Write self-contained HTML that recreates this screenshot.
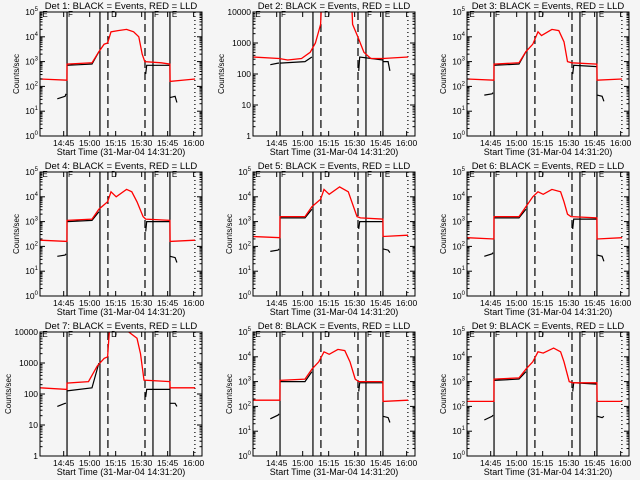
<!DOCTYPE html>
<html><head><meta charset="utf-8"><style>
body{margin:0;background:#f5f5f5}
svg{display:block}
text{font-family:"Liberation Sans",sans-serif;fill:#000}
</style></head><body>
<svg id="c" width="640" height="480" viewBox="0 0 640 480" xmlns="http://www.w3.org/2000/svg">
<rect width="640" height="480" fill="#f5f5f5"/>
</svg>
<script>
// Time in minutes after 14:31:20; values are log10(counts/sec)
const panelTitles = ["Det 1","Det 2","Det 3","Det 4","Det 5","Det 6","Det 7","Det 8","Det 9"];
const yDecades = [5,4,5,5,5,5,4,5,5];
const tickTimes = [13.67,28.67,43.67,58.67,73.67,88.67];
const tickLabels = ["14:45","15:00","15:15","15:30","15:45","16:00"];
const solidLines = [15.6,34.6,65.2,75];
const dashedLines = [39.2,60.6];
const dottedLine = 89.4;

const redT = [
 [0,15.5,15.6,30,34,37,39,41,45,50,54,57,59,60.5,70,75,75.1,89.5],
 [0,15,20,28,33,36,39,39.5,57,57.5,60.5,64,68,75,89.5],
 [0,15.5,15.6,30,34,38,41,43,49,53,56,58,60.5,75,75.1,89.5],
 [0,15.5,15.6,30,34,39,41,44,50,53,56,59.5,61,75,75.1,89.5],
 [0,15.5,15.6,30,34,39,41,44,50,55,58,60,62,75,75.1,89.5],
 [0,15.5,15.6,30,34,38,41,44,49,54,56,58,60,75,75.1,89.5],
 [0,15.5,15.6,28,33,37,39,40,42,50,56,58,60,75,75.1,89.5],
 [0,15.5,15.6,30,34,38,41,44,49,53,56,59,61,75,75.1,89.5],
 [0,15.5,15.6,30,34,38,41,44,50,54,56,59,61,75,75.1,89.5]
];
const redV = [
 [2.3,2.25,2.9,2.95,3.4,3.7,3.75,4.2,4.25,4.3,4.2,4.0,3.3,3.0,2.95,2.9,2.2,2.3],
 [2.55,2.5,2.45,2.5,2.7,3.0,3.6,4.2,4.2,3.6,3.2,2.7,2.5,2.5,2.55],
 [2.3,2.25,2.9,2.95,3.4,3.7,4.2,4.05,4.3,4.25,3.8,3.0,2.95,2.9,2.25,2.3],
 [2.25,2.2,3.05,3.1,3.5,3.8,4.2,4.0,4.3,4.2,3.8,3.2,3.1,3.05,2.2,2.25],
 [2.4,2.35,3.2,3.2,3.6,3.9,4.3,4.1,4.4,4.2,3.6,3.2,3.15,3.1,2.4,2.45],
 [2.35,2.3,3.2,3.2,3.6,4.0,4.2,4.1,4.3,4.2,3.8,3.3,3.2,3.15,2.3,2.35],
 [2.2,2.15,2.35,2.4,2.9,3.15,3.2,4.0,4.05,4.05,3.8,3.3,2.45,2.4,2.2,2.2],
 [2.25,2.25,3.05,3.1,3.5,3.8,4.2,4.1,4.3,4.25,3.8,3.1,3.0,3.0,2.2,2.25],
 [2.2,2.2,3.1,3.15,3.5,3.8,4.2,4.15,4.35,4.2,3.8,3.0,2.95,2.95,2.2,2.2]
];
const blackT = [[10,14.5,15],[15.6,30,34],[61,61.6,75],[75.1,78,79]];
const blackV = [
 [[1.5,1.6,1.7],[2.85,2.9,3.4],[2.5,2.85,2.85],[1.55,1.6,1.35]],
 [[2.3,2.35,2.35],[2.35,2.4,2.55],[2.1,2.55,2.45],[2.4,2.4,2.1]],
 [[1.65,1.7,1.75],[2.85,2.9,3.4],[2.5,2.85,2.8],[1.65,1.6,1.4]],
 [[1.6,1.65,1.7],[3.0,3.05,3.4],[2.6,3.0,3.0],[1.6,1.55,1.35]],
 [[1.8,1.85,1.9],[3.15,3.15,3.5],[2.7,3.0,3.0],[1.9,1.85,1.75]],
 [[1.6,1.7,1.75],[3.15,3.15,3.5],[2.7,3.1,3.1],[1.65,1.6,1.4]],
 [[1.6,1.7,1.7],[2.1,2.2,3.0],[1.9,2.15,2.15],[1.7,1.7,1.6]],
 [[1.5,1.65,1.7],[3.0,3.0,3.4],[2.6,2.95,2.95],[1.6,1.55,1.35]],
 [[1.45,1.6,1.65],[3.05,3.1,3.4],[2.6,2.95,2.9],[1.6,1.55,1.6]]
];

const NS="http://www.w3.org/2000/svg";
const svg=document.getElementById('c');
const BX0=40,BX1=202,BY0=12,BY1=136,TMAX=93.5;
function mk(tag,attrs,parent){const e=document.createElementNS(NS,tag);for(const k in attrs)e.setAttribute(k,attrs[k]);(parent||svg).appendChild(e);return e;}

for(let p=0;p<9;p++){
 const ox=[0,213,427][p%3], oy=[0,160,320][Math.floor(p/3)];
 const nd=yDecades[p];
 const xs=t=>ox+BX0+(t/TMAX)*(BX1-BX0);
 const ys=v=>oy+BY1-(v/nd)*(BY1-BY0);
 const g=mk('g',{});
 
 
 const cp=mk('clipPath',{id:'cp'+p},g);
 mk('rect',{x:ox+BX0,y:oy+BY0,width:BX1-BX0,height:BY1-BY0},cp);
 const tt=mk('text',{x:ox+121,y:oy+9,'font-size':'9.5','text-anchor':'middle'},g);
 tt.textContent=panelTitles[p]+": BLACK = Events, RED = LLD";
 
 
 const vg=mk('g',{stroke:'#000','stroke-width':1.2,fill:'none'},g);
 solidLines.forEach(t=>{mk('line',{x1:xs(t),x2:xs(t),y1:oy+BY0,y2:oy+BY1},vg);});
 dashedLines.forEach(t=>{mk('line',{x1:xs(t),x2:xs(t),y1:oy+BY0,y2:oy+BY1,'stroke-dasharray':'8,4'},vg);});
 mk('line',{x1:xs(dottedLine),x2:xs(dottedLine),y1:oy+BY0,y2:oy+BY1,'stroke-dasharray':'1,3'},vg);
 [[0.8,'E'],[15.6,'F'],[40.5,'D'],[65.2,'F'],[75.5,'E']].forEach(m=>{
  const e=mk('text',{x:xs(m[0])+1,y:oy+BY0+5,'font-size':'8'},g);e.textContent=m[1];
  
 });
 blackT.forEach((ts,i)=>{
  const pts=ts.map((t,j)=>xs(t).toFixed(1)+','+ys(blackV[p][i][j]).toFixed(1)).join(' ');
  const l=mk('polyline',{points:pts,fill:'none',stroke:'#000','stroke-width':1.2,'clip-path':'url(#cp'+p+')'},g);
  
  
 });
 const rp=redT[p].map((t,j)=>xs(t).toFixed(1)+','+ys(redV[p][j]).toFixed(1)).join(' ');
 const rl=mk('polyline',{points:rp,fill:'none',stroke:'#ff0000','stroke-width':1.3,'clip-path':'url(#cp'+p+')'},g);
 
 
 mk('rect',{x:ox+BX0,y:oy+BY0,width:BX1-BX0,height:BY1-BY0,fill:'none',stroke:'#000','stroke-width':1},g);
 const ag=mk('g',{stroke:'#000','stroke-width':1},g);
 tickTimes.forEach((t,i)=>{
  const x=xs(t);
  mk('line',{x1:x,x2:x,y1:oy+BY1,y2:oy+BY1-5},ag);
  mk('line',{x1:x,x2:x,y1:oy+BY0,y2:oy+BY0+5},ag);
  const lb=mk('text',{x:x,y:oy+BY1+10,'font-size':'8.5','text-anchor':'middle'},g);
  lb.textContent=tickLabels[i];
  
 });
 for(let d=0;d<=nd;d++){
  const y=ys(d);
  mk('line',{x1:ox+BX0,x2:ox+BX0+5,y1:y,y2:y},ag);
  mk('line',{x1:ox+BX1,x2:ox+BX1-5,y1:y,y2:y},ag);
  if(d<nd){for(let m=2;m<10;m++){const ym=ys(d+Math.log10(m));
   mk('line',{x1:ox+BX0,x2:ox+BX0+2.5,y1:ym,y2:ym},ag);mk('line',{x1:ox+BX1,x2:ox+BX1-2.5,y1:ym,y2:ym},ag);}}
  const lb=mk('text',{x:ox+BX0-2,y:y+3,'font-size':'8.5','text-anchor':'end'},g);
  if(nd===4){lb.textContent=String(Math.pow(10,d));}
  else{lb.textContent='10';const s=mk('tspan',{dy:-4,'font-size':'6'},lb);s.textContent=String(d);}
  
 }
 const xl=mk('text',{x:ox+121,y:oy+BY1+19,'font-size':'9','text-anchor':'middle'},g);
 xl.textContent='Start Time (31-Mar-04 14:31:20)';
 
 const yl=mk('text',{x:0,y:0,'font-size':'8','text-anchor':'middle',transform:'translate('+(ox+(nd===4?11:19))+','+(oy+74)+') rotate(-90)'},g);
 yl.textContent='Counts/sec';
 
}
</script>
</body></html>
